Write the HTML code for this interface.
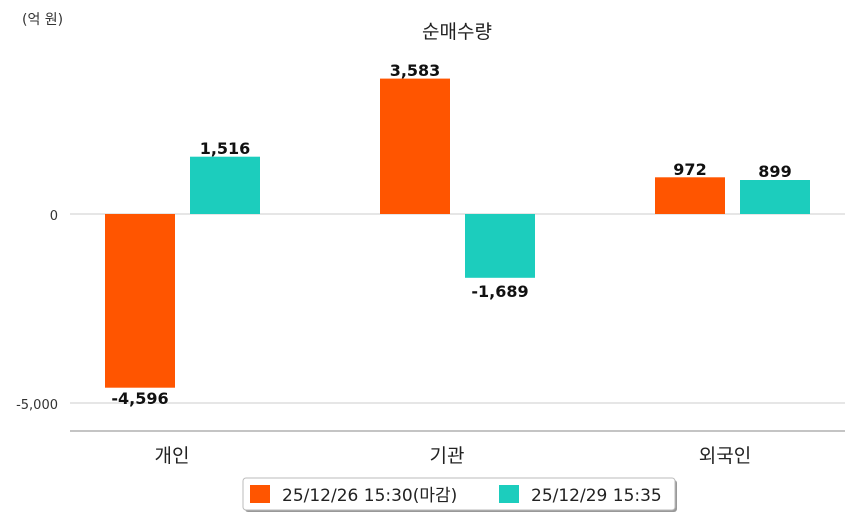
<!DOCTYPE html><html><head><meta charset="utf-8"><style>body{margin:0;background:#fff}</style></head><body>
<svg width="854" height="520" xmlns="http://www.w3.org/2000/svg" font-family="'DejaVu Sans','Noto Sans CJK KR',sans-serif">
<text x="22" y="24" font-size="14" fill="#333">(억 원)</text>
<text x="457" y="38" font-size="19" fill="#222" text-anchor="middle">순매수량</text>
<line x1="70" y1="214" x2="845" y2="214" stroke="#ccc"/>
<line x1="70" y1="403" x2="845" y2="403" stroke="#ccc"/>
<line x1="70" y1="431" x2="845" y2="431" stroke="#888"/>
<text x="58" y="220" font-size="13" fill="#333" text-anchor="end">0</text>
<text x="58" y="409" font-size="13" fill="#333" text-anchor="end">-5,000</text>
<rect x="105" y="214" width="70" height="173.7" fill="#ff5500"/>
<rect x="190" y="156.7" width="70" height="57.3" fill="#1ccdbd"/>
<rect x="380" y="78.6" width="70" height="135.4" fill="#ff5500"/>
<rect x="465" y="214" width="70" height="63.8" fill="#1ccdbd"/>
<rect x="655" y="177.3" width="70" height="36.7" fill="#ff5500"/>
<rect x="740" y="180" width="70" height="34" fill="#1ccdbd"/>
<g font-size="16" font-weight="bold" fill="#111" text-anchor="middle">
<text x="140" y="404">-4,596</text>
<text x="225" y="154">1,516</text>
<text x="415" y="76">3,583</text>
<text x="500" y="297">-1,689</text>
<text x="690" y="175">972</text>
<text x="775" y="177">899</text>
</g>
<g font-size="19" fill="#222" text-anchor="middle">
<text x="172" y="462">개인</text>
<text x="447" y="462">기관</text>
<text x="725" y="462">외국인</text>
</g>
<rect x="245" y="480" width="432" height="32" rx="3" fill="#999"/>
<rect x="243" y="478" width="432" height="32" rx="3" fill="#fff" stroke="#bbb"/>
<rect x="250" y="485" width="20" height="18" fill="#ff5500"/>
<text x="282" y="501" font-size="17" fill="#222">25/12/26 15:30(마감)</text>
<rect x="499" y="485" width="20" height="18" fill="#1ccdbd"/>
<text x="531" y="501" font-size="17" fill="#222">25/12/29 15:35</text>
</svg></body></html>
